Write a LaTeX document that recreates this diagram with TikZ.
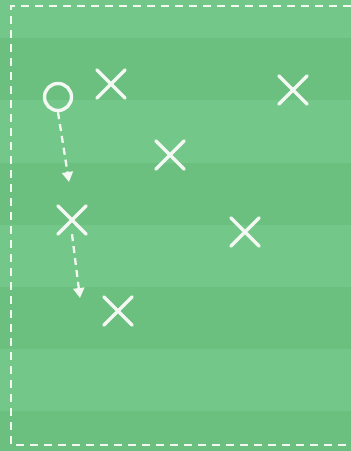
\documentclass[tikz,border=0pt]{standalone}
\usetikzlibrary{shapes.misc,arrows.meta}
\definecolor{pitchLight}{HTML}{73C788}
\definecolor{pitchDark}{HTML}{6BC080}
\definecolor{chalk}{HTML}{F4F8F2}

\begin{document}
\begin{tikzpicture}[x=1pt,y=-1pt,
    defender/.style={draw=chalk,cross out,line width=3.4pt,line cap=round,minimum size=25pt,inner sep=0pt},
    attacker/.style={draw=chalk,circle,line width=3.4pt,minimum size=27pt,inner sep=0pt},
    run/.style={draw=chalk,line width=2.3pt,dash pattern=on 7pt off 5pt,-{Triangle[width=11pt,length=10pt]}}]
    \useasboundingbox (0,0) rectangle (351,451);
    % grass with mown stripes
    \fill[pitchLight] (0,0) rectangle (351,451);
    \foreach \y in {38,163,287,411}
        \fill[pitchDark] (0,\y) rectangle (351,\y+62);
    % touchline (dashed)
    \draw[chalk,line width=2.3pt,dash pattern=on 8pt off 6pt] (351,6) -| (11,445) -- (351,445);
    % attacker
    \node[attacker] (o) at (58,97) {};
    % defenders
    \node[defender] (d1) at (111,84) {};
    \node[defender] (d2) at (293,90) {};
    \node[defender] (d3) at (170,155) {};
    \node[defender] (d4) at (72,220) {};
    \node[defender] (d5) at (245,232) {};
    \node[defender] (d6) at (118,311) {};
    % runs
    \coordinate (run1) at (69,182);
    \coordinate (run2) at (80,298);
    \draw[run] (o.south) -- (run1);
    \draw[run] (d4.south) -- (run2);
\end{tikzpicture}
\end{document}
